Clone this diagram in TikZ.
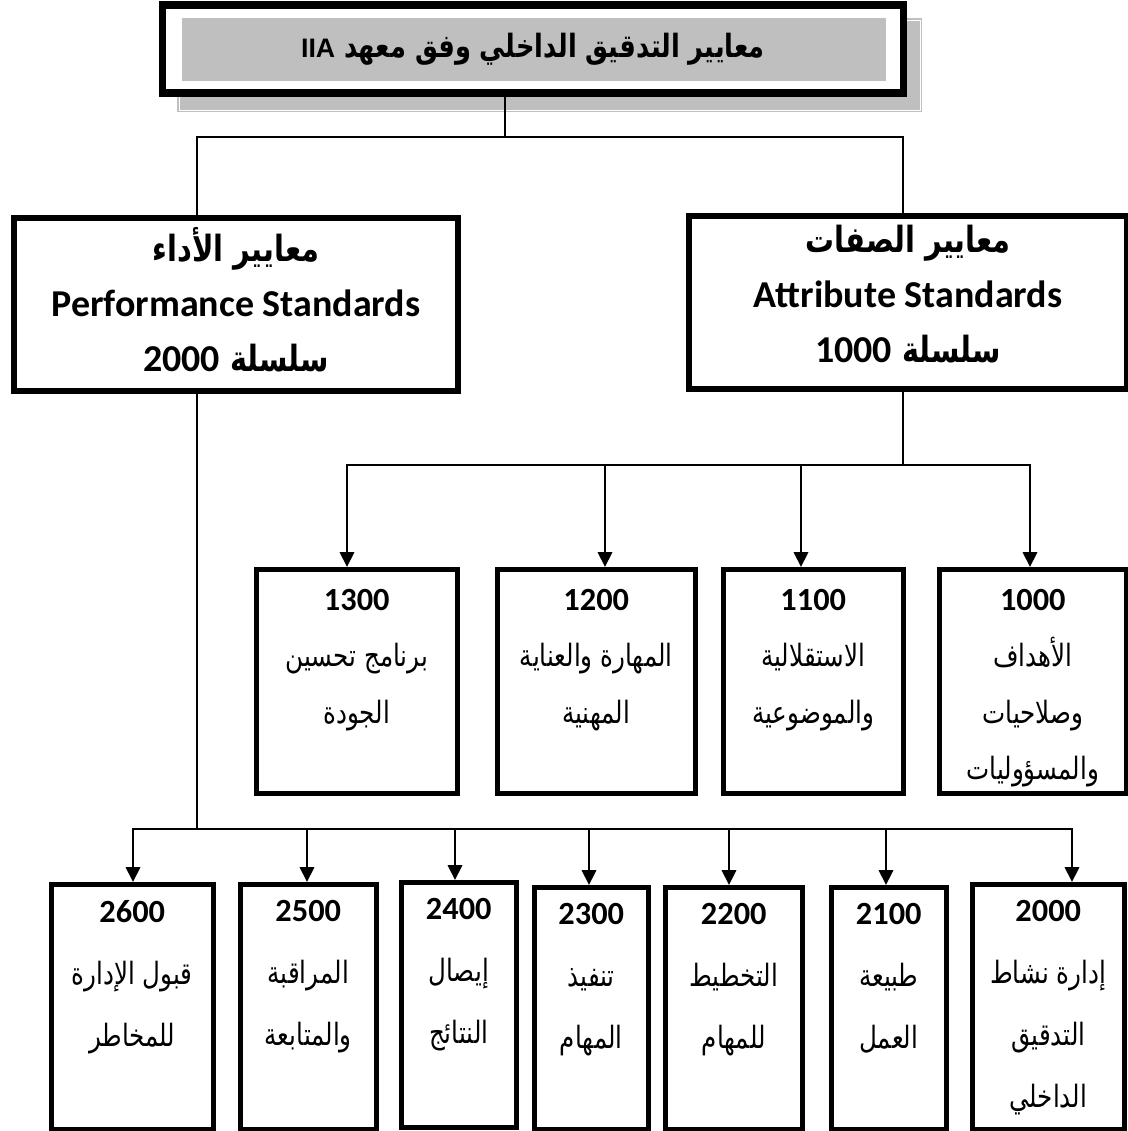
\documentclass[tikz,border=0pt]{standalone}
\usepackage{fontspec}
\setmainfont{Carlito}
\newfontfamily\arabicfont[Script=Arabic,Scale=0.95,FakeStretch=0.8]{DejaVu Sans}
\newfontfamily\iiafont{Liberation Sans}
\TeXXeTstate=1
\usetikzlibrary{arrows.meta,positioning}
\newcommand{\artxt}[1]{{\arabicfont\beginR #1\endR}}

\begin{document}
\begin{tikzpicture}[x=0.025cm,y=-0.025cm,
  link/.style={line width=2.1pt},
  arrow/.style={link,-{Triangle[width=10pt,length=10.5pt]}},
  bigbox/.style={draw,line width=4.3pt,anchor=north west,inner sep=0pt},
  subbox/.style={draw,line width=3.2pt,anchor=north west,inner sep=0pt},
  biglbl/.style={align=center,inner sep=0pt,font=\fontsize{27}{39}\selectfont\bfseries},
  lbl/.style={align=center,inner sep=0pt,font=\fontsize{23}{40}\selectfont},
  lowlbl/.style={lbl,font=\fontsize{23}{44}\selectfont}]
\useasboundingbox (0,0) rectangle (1128,1131);

% title with its shadow
\fill[black!25] (177,18) rectangle (922,112);
\draw[white,line width=.6pt] (179,20) rectangle (920,110);
\node[draw,fill=white,line width=5pt,minimum width=18.5cm,minimum height=2.2cm,
  path picture={\fill[black!25] ([shift={(19,13)}]path picture bounding box.north west)
    rectangle ([shift={(-17,-12)}]path picture bounding box.south east);}]
  (title) at (533,49) {\fontsize{24}{28}\selectfont\bfseries
  \artxt{معايير التدقيق الداخلي وفق معهد {\fontsize{19}{24}\selectfont\iiafont\beginL IIA\endL}}};

% the two series
\node[bigbox,minimum width=11.1cm,minimum height=4.325cm] (perf) at (11,215) {};
\node[bigbox,minimum width=10.95cm,minimum height=4.325cm] (attr) at (686,213) {};
\node[biglbl,below=0.3cm of perf.north] (tperf) {\artxt{معايير الأداء}\\
  Performance Standards\\ \artxt{سلسلة {\rmfamily\beginL 2000\endL}}};
\node[biglbl,below=0.3cm of attr.north] (tattr) {\artxt{معايير الصفات}\\
  Attribute Standards\\ \artxt{سلسلة {\rmfamily\beginL 1000\endL}}};

% attribute standards
\node[subbox,minimum width=5.025cm,minimum height=5.6cm] (b1300) at (254,567) {};
\node[subbox,minimum width=4.95cm,minimum height=5.6cm] (b1200) at (495,567) {};
\node[subbox,minimum width=4.5cm,minimum height=5.6cm] (b1100) at (721,567) {};
\node[subbox,minimum width=4.675cm,minimum height=5.6cm] (b1000) at (937,567) {};
\node[lbl,below=0.55cm of b1300.north] (t1300) {\textbf{1300}\\ \artxt{برنامج تحسين}\\ \artxt{الجودة}};
\node[lbl,below=0.55cm of b1200.north] (t1200) {\textbf{1200}\\ \artxt{المهارة والعناية}\\ \artxt{المهنية}};
\node[lbl,below=0.55cm of b1100.north] (t1100) {\textbf{1100}\\ \artxt{الاستقلالية}\\ \artxt{والموضوعية}};
\node[lbl,below=0.55cm of b1000.north] (t1000) {\textbf{1000}\\ \artxt{الأهداف}\\ \artxt{وصلاحيات}\\ \artxt{والمسؤوليات}};

% performance standards
\node[subbox,minimum width=4.05cm,minimum height=6.125cm] (b2600) at (49,882) {};
\node[subbox,minimum width=3.4cm,minimum height=6.125cm] (b2500) at (238,882) {};
\node[subbox,minimum width=2.875cm,minimum height=6.125cm] (b2400) at (399,880) {};
\node[subbox,minimum width=2.85cm,minimum height=6.05cm] (b2300) at (532,885) {};
\node[subbox,minimum width=3.425cm,minimum height=6.05cm] (b2200) at (663,885) {};
\node[subbox,minimum width=2.875cm,minimum height=6.05cm] (b2100) at (829,885) {};
\node[subbox,minimum width=3.8cm,minimum height=6.125cm] (b2000) at (970,882) {};
\node[lowlbl,below=0.45cm of b2600.north] (t2600) {\textbf{2600}\\ \artxt{قبول الإدارة}\\ \artxt{للمخاطر}};
\node[lowlbl,below=0.45cm of b2500.north] (t2500) {\textbf{2500}\\ \artxt{المراقبة}\\ \artxt{والمتابعة}};
\node[lowlbl,below=0.45cm of b2400.north] (t2400) {\textbf{2400}\\ \artxt{إيصال}\\ \artxt{النتائج}};
\node[lowlbl,below=0.45cm of b2300.north] (t2300) {\textbf{2300}\\ \artxt{تنفيذ}\\ \artxt{المهام}};
\node[lowlbl,below=0.45cm of b2200.north] (t2200) {\textbf{2200}\\ \artxt{التخطيط}\\ \artxt{للمهام}};
\node[lowlbl,below=0.45cm of b2100.north] (t2100) {\textbf{2100}\\ \artxt{طبيعة}\\ \artxt{العمل}};
\node[lowlbl,below=0.45cm of b2000.north] (t2000) {\textbf{2000}\\ \artxt{إدارة نشاط}\\ \artxt{التدقيق}\\ \artxt{الداخلي}};

% connectors
\coordinate (thub) at (505,137);
\coordinate (lx) at (197,0);
\coordinate (rx) at (903,0);
\coordinate (mhub) at (903,465);
\coordinate (bhub) at (197,829);
\draw[line width=1.4pt] (title.south -| thub) -- (thub);
\draw[link] (thub) -| (lx |- perf.north);
\draw[link] (thub) -| (rx |- attr.north);
\draw[link] (attr.south -| mhub) -- (mhub);
\foreach \b/\x in {b1300/347,b1200/605,b1100/801,b1000/1030}
  \draw[arrow] (mhub) -| (\x,0 |- \b.north);
\draw[link] (perf.south -| bhub) -- (bhub);
\foreach \b/\x in {b2600/133,b2500/307,b2400/455,b2300/589,b2200/729,b2100/886,b2000/1072}
  \draw[arrow] (bhub) -| (\x,0 |- \b.north);
\end{tikzpicture}
\end{document}
